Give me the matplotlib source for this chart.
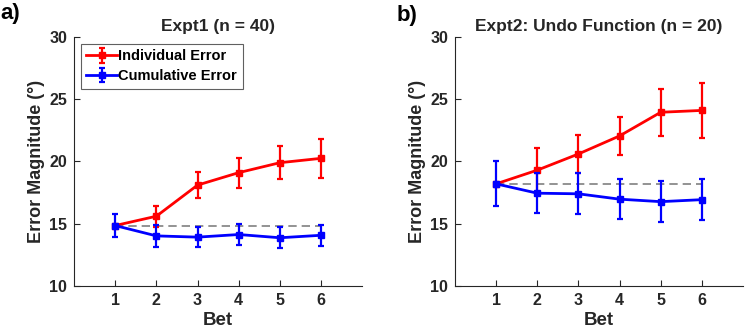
import matplotlib.pyplot as plt

plt.rcParams['font.family'] = ['Liberation Sans', 'DejaVu Sans']
plt.rcParams['font.weight'] = 'bold'

bets = [1, 2, 3, 4, 5, 6]

# Expt1 (n = 40)
ind1 = [14.85, 15.6, 18.1, 19.1, 19.9, 20.25]
ind1_err = [0.0, 0.86, 1.02, 1.2, 1.34, 1.55]
cum1 = [14.85, 14.02, 13.92, 14.13, 13.87, 14.07]
cum1_err = [0.9, 0.86, 0.8, 0.86, 0.85, 0.83]

# Expt2: Undo Function (n = 20)
ind2 = [18.2, 19.3, 20.6, 22.05, 23.95, 24.1]
ind2_err = [0.0, 1.77, 1.5, 1.5, 1.88, 2.2]
cum2 = [18.2, 17.45, 17.4, 16.97, 16.77, 16.93]
cum2_err = [1.8, 1.6, 1.66, 1.63, 1.62, 1.62]

titles = ['Expt1 (n = 40)', 'Expt2: Undo Function (n = 20)']
panel_labels = ['a)', 'b)']

fig = plt.figure(figsize=(7.45, 3.36), dpi=100)
ax1 = fig.add_axes([0.0993, 0.149, 0.387, 0.741])
ax2 = fig.add_axes([0.6107, 0.149, 0.3866, 0.741])

tick_col = '#262626'

def draw_panel(ax, ind, ind_err, cum, cum_err, title, show_legend):
    ax.plot([bets[0], bets[-1]], [cum[0], cum[0]], '--', color='#808080',
            lw=1.2, dashes=(5, 3), zorder=1)
    ax.errorbar(bets, ind, yerr=ind_err, color='#ff0000', marker='s',
                markersize=5, lw=2, elinewidth=1.6, capsize=2.3,
                capthick=1.6, label='Individual Error', zorder=2)
    ax.errorbar(bets, cum, yerr=cum_err, color='#0000ff', marker='s',
                markersize=5, lw=2, elinewidth=1.6, capsize=2.3,
                capthick=1.6, label='Cumulative Error', zorder=3)
    ax.set_xlim(0, 7)
    ax.set_ylim(10, 30)
    ax.set_xticks(bets)
    ax.set_yticks([10, 15, 20, 25, 30])
    for s in ['top', 'right']:
        ax.spines[s].set_visible(False)
    for s in ['left', 'bottom']:
        ax.spines[s].set_color(tick_col)
        ax.spines[s].set_linewidth(0.8)
    ax.tick_params(direction='in', length=4, width=0.8, colors=tick_col,
                   labelsize=11.5, pad=5)
    for lab in ax.get_xticklabels() + ax.get_yticklabels():
        lab.set_fontweight('bold')
    ax.set_xlabel('Bet', fontsize=13.5, fontweight='bold', color=tick_col,
                  labelpad=3)
    ax.set_ylabel('Error Magnitude (°)', fontsize=13, fontweight='bold',
                  color=tick_col, labelpad=3)
    ax.set_title(title, fontsize=12.5, fontweight='bold', color=tick_col,
                 pad=4)
    if show_legend:
        leg = ax.legend(loc='upper left', fontsize=10.5, frameon=True,
                        fancybox=False, borderaxespad=0.45, handlelength=2.1,
                        handletextpad=0.1, borderpad=0.4, labelspacing=0.4,
                        framealpha=1)
        leg.get_frame().set_edgecolor('#606060')
        leg.get_frame().set_linewidth(0.8)
        for t in leg.get_texts():
            t.set_fontweight('bold')

draw_panel(ax1, ind1, ind1_err, cum1, cum1_err, titles[0], True)
draw_panel(ax2, ind2, ind2_err, cum2, cum2_err, titles[1], False)

fig.text(0.0, 0.96, panel_labels[0], fontsize=16, fontweight='bold',
         va='center', ha='left')
fig.text(0.532, 0.955, panel_labels[1], fontsize=16, fontweight='bold',
         va='center', ha='left')

fig.savefig('out.png', dpi=100)
